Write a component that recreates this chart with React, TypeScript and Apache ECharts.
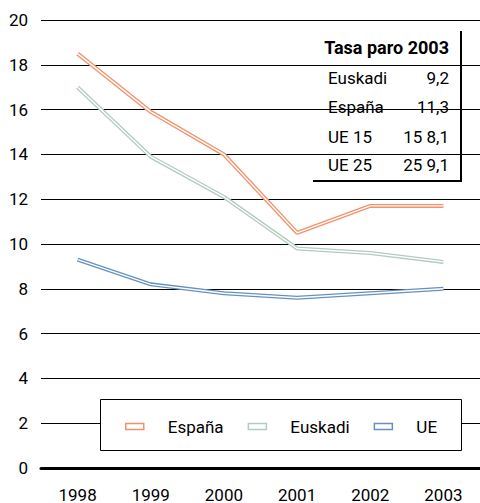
import React, { useEffect, useRef } from "react";
import * as echarts from "echarts";

const years = ["1998", "1999", "2000", "2001", "2002", "2003"];
const espana = [18.5, 15.9, 14.0, 10.5, 11.7, 11.7];
const euskadi = [17.0, 13.9, 12.1, 9.8, 9.6, 9.2];
const ue = [9.3, 8.2, 7.8, 7.6, 7.8, 8.0];
const seriesNames = ["España", "Euskadi", "UE"];
const seriesColors = ["#f4906a", "#b4cbbf", "#6690c0"];
const tableTitle = "Tasa paro 2003";
const tableRows = [
  ["Euskadi", "9,2"],
  ["España", "11,3"],
  ["UE 15", "15 8,1"],
  ["UE 25", "25 9,1"],
];

const FONT = "'Liberation Sans Narrow', 'Roboto', sans-serif";

export default function App() {
  const ref = useRef<HTMLDivElement>(null);
  useEffect(() => {
    if (!ref.current) return;
    const chart = echarts.init(ref.current, null, { renderer: "svg" });
    const datasets = [espana, euskadi, ue];
    const series: any[] = [];
    datasets.forEach((d, i) => {
      series.push({
        name: seriesNames[i],
        type: "line",
        data: d,
        symbol: "none",
        lineStyle: { color: seriesColors[i], width: 4 },
        itemStyle: { color: "#fff", borderColor: seriesColors[i], borderWidth: 1.5 },
        z: 3,
      });
    });
    datasets.forEach((d, i) => {
      series.push({
        name: seriesNames[i] + "_inner",
        type: "line",
        data: d,
        symbol: "none",
        lineStyle: { color: "#ffffff", width: 1.4 },
        z: 4,
      });
    });
    const tableChildren: any[] = [
      { type: "rect", shape: { x: 310, y: 30, width: 151, height: 151 }, style: { fill: "#fff" } },
      { type: "line", shape: { x1: 461, y1: 31, x2: 461, y2: 182 }, style: { stroke: "#000", lineWidth: 2 } },
      { type: "line", shape: { x1: 313, y1: 181, x2: 462, y2: 181 }, style: { stroke: "#000", lineWidth: 2 } },
      {
        type: "text",
        style: { text: tableTitle, x: 449, y: 47, align: "right", verticalAlign: "middle", font: `bold 18px ${FONT}`, fill: "#000" },
      },
    ];
    const rowY = [78, 107, 137, 165];
    tableRows.forEach((r, i) => {
      tableChildren.push({
        type: "text",
        style: { text: r[0], x: 328, y: rowY[i], align: "left", verticalAlign: "middle", font: `17px ${FONT}`, fill: "#000" },
      });
      tableChildren.push({
        type: "text",
        style: { text: r[1], x: 449, y: rowY[i], align: "right", verticalAlign: "middle", font: `17px ${FONT}`, fill: "#000" },
      });
    });
    chart.setOption({
      animation: false,
      backgroundColor: "#fff",
      grid: { left: 41, right: 0, top: 20, bottom: 34, containLabel: false },
      xAxis: {
        type: "category",
        data: years,
        boundaryGap: true,
        axisLine: { show: true, lineStyle: { color: "#000", width: 3 } },
        axisTick: { show: false },
        axisLabel: { color: "#000", fontSize: 17, fontFamily: FONT, margin: 18 },
        splitLine: { show: false },
      },
      yAxis: {
        type: "value",
        min: 0,
        max: 20,
        interval: 2,
        axisLine: { show: false },
        axisTick: { show: false },
        axisLabel: { color: "#000", fontSize: 17, fontFamily: FONT, margin: 13 },
        splitLine: { show: true, lineStyle: { color: "#000", width: 1 } },
      },
      legend: {
        data: seriesNames.map((n, i) => ({ name: n, itemStyle: { color: "#fff", borderColor: seriesColors[i], borderWidth: 1.5 } })),
        left: 120,
        top: 413,
        itemWidth: 18,
        itemHeight: 6,
        itemGap: 24,
        icon: "rect",
        z: 10,
        textStyle: { color: "#000", fontSize: 17, fontFamily: FONT, padding: [0, 0, 0, 19] },
      },
      graphic: [
        { type: "rect", z: 5, shape: { x: 100.5, y: 399.5, width: 361, height: 51 }, style: { fill: "#fff", stroke: "#000", lineWidth: 1 } },
        { type: "group", z: 5, children: tableChildren },
      ],
      series,
    });
    return () => chart.dispose();
  }, []);
  return <div ref={ref} style={{ position: "fixed", left: 0, top: 0, width: 480, height: 503 }} />;
}
